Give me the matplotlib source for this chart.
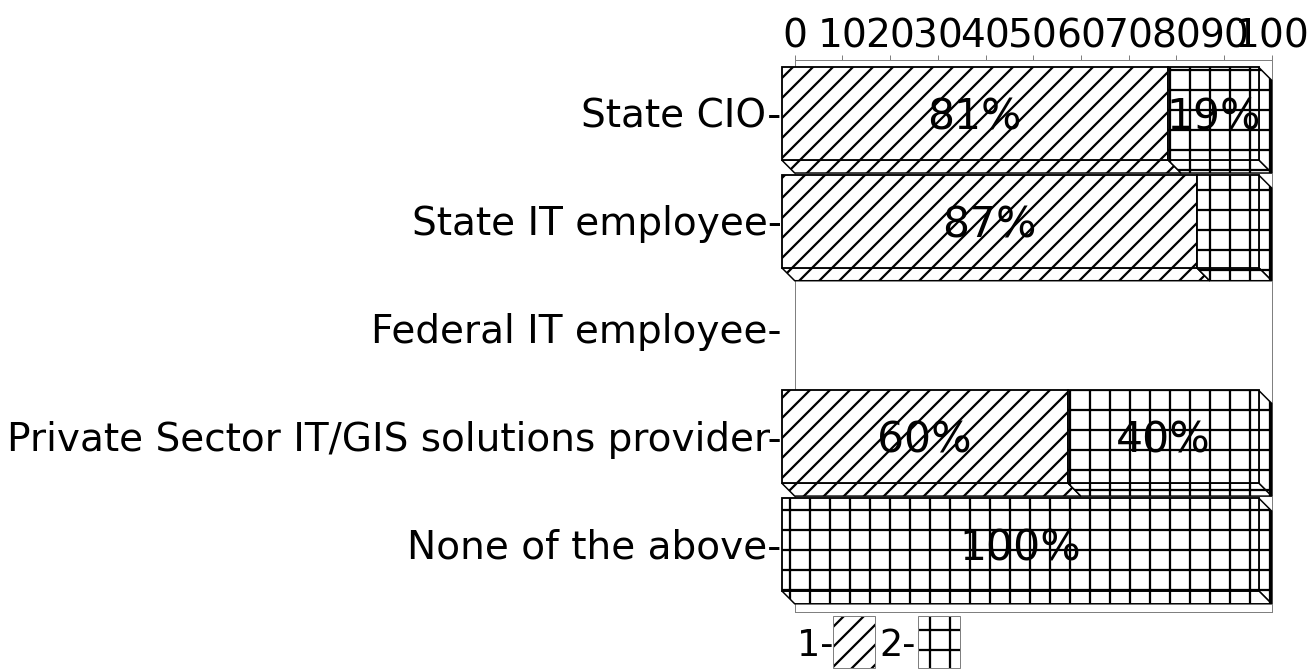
import matplotlib.pyplot as plt
from matplotlib.patches import Polygon, Rectangle
from matplotlib.transforms import offset_copy

# data
categories = ["State CIO", "State IT employee", "Federal IT employee",
              "Private Sector IT/GIS solutions provider", "None of the above"]
series1 = [81, 87, 0, 60, 0]
series2 = [19, 13, 0, 40, 100]
series_names = ["1", "2"]
x_ticks = [0, 10, 20, 30, 40, 50, 60, 70, 80, 90, 100]

W, H, DPI = 1316, 669, 120
plt.rcParams['font.family'] = ['DejaVu Sans']
plt.rcParams['hatch.linewidth'] = 1.35

hatches = ["//", "+"]
bar_h = 0.861
dx, dy = 2.73, 0.121   # depth of the 3d bars in data units
grey = '#808080'

fig = plt.figure(figsize=(W / DPI, H / DPI), dpi=DPI)
ax = fig.add_axes([794.7 / W, 1 - 611.7 / H, 477 / W, 551.7 / H])
ax.set_xlim(0, 100)
ax.set_ylim(4.504, -0.619)

ax.xaxis.tick_top()
ax.set_xticks(x_ticks)
ax.set_xticklabels([str(t) for t in x_ticks])
ax.tick_params(axis='x', colors=grey, labelcolor='black', length=3, width=0.6,
               labelsize=23.5, pad=0)
ax.set_yticks([])
for sp in ax.spines.values():
    sp.set_color(grey)
    sp.set_linewidth(0.6)

# text nudged a few pixels down
pct_tr = offset_copy(ax.transData, fig=fig, x=0, y=-4, units='dots')
cat_tr = offset_copy(ax.transData, fig=fig, x=0, y=-3, units='dots')

z = 3
for i, cat in enumerate(categories):
    ax.text(-dx, i - dy, cat + "-", ha='right', va='center', fontsize=23.4,
            transform=cat_tr)
    left = 0
    for vals, hatch in zip([series1, series2], hatches):
        v = vals[i]
        if v <= 0:
            continue
        a, b = left, left + v
        top, bot = i - bar_h / 2, i + bar_h / 2
        side = Polygon([(b - dx, top - dy), (b, top), (b, bot), (b - dx, bot - dy)],
                       closed=True, facecolor='white', edgecolor='black',
                       lw=0.9, hatch=hatch, clip_on=False, zorder=z)
        floor = Polygon([(a - dx, bot - dy), (b - dx, bot - dy), (b, bot), (a, bot)],
                        closed=True, facecolor='white', edgecolor='black',
                        lw=0.9, hatch=hatch, clip_on=False, zorder=z)
        front = Rectangle((a - dx, top - dy), v, bar_h, facecolor='white',
                          edgecolor='black', lw=1.1, hatch=hatch,
                          clip_on=False, zorder=z + 0.5)
        ax.add_patch(side)
        ax.add_patch(floor)
        ax.add_patch(front)
        if v >= 15:
            ax.text(a + v / 2 - dx, i - dy, f"{v}%", ha='center', va='center',
                    fontsize=25.5, transform=pct_tr, zorder=z + 1)
        left = b
        z += 2

# legend: "1-" box "2-" box
leg_text_x = [797, 879]
leg_box_x = [833, 918]
for name, hatch, tx, bx in zip(series_names, hatches, leg_text_x, leg_box_x):
    fig.text(tx / W, 1 - 656 / H, name + "-", fontsize=22, ha='left', va='baseline')
    fig.add_artist(Rectangle((bx / W, 1 - 668 / H), 42 / W, 52 / H,
                             transform=fig.transFigure, facecolor='white',
                             edgecolor='black', lw=0, hatch=hatch))
    fig.add_artist(Rectangle((bx / W, 1 - 668 / H), 42 / W, 52 / H,
                             transform=fig.transFigure, facecolor='none',
                             edgecolor=grey, lw=0.6))

fig.savefig("out.png", dpi=DPI)
